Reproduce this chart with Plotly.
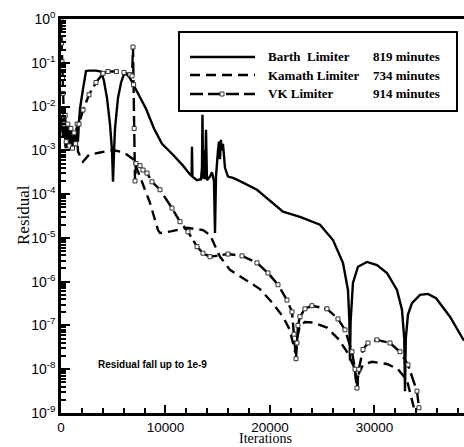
import plotly.graph_objects as go

# ---------------- data ----------------
barth_iter = [0, 150, 300, 450, 600, 750, 900, 1050, 1200, 1350, 1500, 1620, 1723, 1818, 2105, 2393,
              2680, 3350, 3828, 4100, 4400, 4690, 4880, 4976, 5080, 5168, 5455, 5750, 6029, 6316, 6603,
              7178, 8135, 8900, 9666, 10718, 11675, 12345, 12500, 12537, 12580, 13015, 13400, 13494,
              13540, 13589, 13685, 13780, 13877, 13970, 14259, 14451, 14640, 14738, 14834, 15025,
              15120, 15216, 15300, 15408, 15503, 15695, 15982, 16460, 16939, 18757, 21245, 22872,
              24786, 26030, 26987, 27466, 27600, 27657, 27720, 27943, 28423, 29284, 30241, 31198,
              32155, 32634, 32850, 32921, 33000, 33208, 33591, 34356, 35122, 35900, 37227, 38567]
barth_res = [6.31e-3, 2.51e-3, 5.01e-3, 1.26e-3, 3.98e-3, 1.58e-3, 3.16e-3, 1.12e-3, 2.51e-3, 1.26e-3,
             3.16e-3, 1.58e-3, 4.47e-3, 8.91e-3, 2.51e-2, 6.46e-2, 6.61e-2, 6.61e-2, 6.31e-2, 3.98e-2,
             1.58e-2, 3.98e-3, 1.0e-3, 1.91e-4, 1.0e-3, 3.16e-3, 1.58e-2, 3.55e-2, 5.50e-2, 5.37e-2,
             4.47e-2, 2.51e-2, 8.91e-3, 3.16e-3, 1.41e-3, 7.94e-4, 4.47e-4, 2.82e-4, 2.63e-4, 1.20e-3,
             2.51e-4, 2.09e-4, 2.19e-4, 3.98e-4, 6.46e-3, 2.24e-4, 1.0e-3, 2.19e-4, 2.95e-3, 2.09e-4,
             2.51e-4, 3.16e-4, 2.0e-4, 1.29e-5, 2.51e-4, 1.0e-3, 1.58e-3, 6.31e-4, 1.74e-3, 1.0e-3,
             1.41e-3, 3.98e-4, 2.51e-4, 2.34e-4, 2.09e-4, 1.26e-4, 3.98e-5, 3.02e-5, 2.0e-5, 8.91e-6,
             2.69e-6, 6.46e-7, 1.26e-7, 1.58e-8, 1.26e-7, 9.33e-7, 2.19e-6, 2.82e-6, 2.40e-6, 1.58e-6,
             6.46e-7, 2.29e-7, 5.01e-8, 3.16e-9, 5.01e-8, 1.78e-7, 3.24e-7, 5.01e-7, 5.25e-7, 4.17e-7,
             1.58e-7, 4.47e-8]

kamath_iter = [0, 150, 300, 450, 600, 750, 900, 1050, 1200, 1400, 1550, 1627, 2105, 2680, 3732, 4976,
               6029, 6316, 6890, 7560, 8517, 9283, 9474, 10500, 12058, 13589, 14259, 15216, 16173,
               17800, 19044, 20288, 21245, 21900, 22394, 22585, 22872, 23351, 24116, 25456, 26509,
               27370, 28136, 28327, 28500, 28901, 29762, 31198, 32251, 33112, 33686, 33900]
kamath_res = [5.01e-3, 2.0e-3, 3.98e-3, 1.12e-3, 3.16e-3, 1.41e-3, 3.55e-3, 1.26e-3, 2.51e-3, 1.12e-3,
              2.0e-3, 9.33e-4, 5.50e-4, 7.94e-4, 8.91e-4, 1.02e-3, 8.91e-4, 7.94e-4, 6.31e-4, 2.51e-4,
              6.31e-5, 1.51e-5, 1.29e-5, 1.41e-5, 1.70e-5, 1.51e-5, 1.17e-5, 3.72e-6, 1.86e-6, 1.05e-6,
              6.76e-7, 3.16e-7, 1.58e-7, 7.94e-8, 2.51e-8, 5.01e-8, 1.0e-7, 1.20e-7, 1.17e-7, 8.91e-8,
              5.01e-8, 2.51e-8, 1.0e-8, 3.39e-9, 7.94e-9, 1.26e-8, 1.48e-8, 1.32e-8, 1.0e-8, 5.62e-9,
              1.55e-9, 1.0e-9]

vk_iter = [0, 50, 100, 150, 200, 250, 300, 400, 500, 650, 800, 950, 1100, 1250, 1400, 1550, 1723, 2105,
           2680, 3350, 4019, 4500, 5300, 6029, 6600, 6800, 6890, 6950, 7000, 7082, 7178, 7560, 7847,
           8230, 8709, 9474, 10623, 11388, 12154, 13015, 13589, 14259, 15982, 17322, 18757, 19810,
           20767, 21628, 22107, 22300, 22490, 22585, 22681, 22872, 23351, 24020, 25456, 26509, 27179,
           27848, 28136, 28327, 28500, 28901, 29380, 30241, 31485, 32442, 33208, 34069, 34261]
vk_res = [1.0, 2.82e-1, 1.05e-1, 4.37e-2, 2.0e-2, 8.91e-3, 3.98e-3, 6.31e-3, 1.58e-3, 3.98e-3, 1.26e-3,
          3.16e-3, 1.12e-3, 2.51e-3, 1.41e-3, 3.98e-3, 3.98e-3, 8.32e-3, 1.86e-2, 3.55e-2, 5.75e-2,
          6.31e-2, 6.31e-2, 6.03e-2, 5.37e-2, 5.01e-2, 2.29e-1, 3.16e-2, 3.16e-3, 2.0e-4, 5.01e-4,
          4.47e-4, 3.55e-4, 3.02e-4, 1.91e-4, 1.26e-4, 4.79e-5, 2.34e-5, 1.38e-5, 6.31e-6, 4.47e-6,
          3.72e-6, 4.27e-6, 3.89e-6, 2.69e-6, 1.58e-6, 8.51e-7, 3.80e-7, 2.04e-7, 6.31e-8, 1.74e-8,
          3.98e-8, 1.0e-7, 1.58e-7, 2.40e-7, 2.82e-7, 2.40e-7, 1.41e-7, 7.94e-8, 2.51e-8, 1.0e-8,
          3.72e-9, 1.0e-8, 2.82e-8, 3.98e-8, 4.68e-8, 3.98e-8, 2.51e-8, 1.26e-8, 3.16e-9, 1.32e-9]

series_names = ["Barth\u00a0 Limiter", "Kamath Limiter", "VK Limiter"]
run_times = ["819 minutes", "734 minutes", "914 minutes"]

x_ticks = [0, 10000, 20000, 30000]
y_exponents = list(range(-9, 1))

# ---------------- figure ----------------
W, H = 464, 447
L, T, B, R = 61, 19, 34, 0
pw, ph = W - L - R, H - T - B


def px(x):
    return (x - L) / pw


def py(y):
    return (H - B - y) / ph


fig = go.Figure()
fig.add_trace(go.Scatter(x=barth_iter, y=barth_res, mode="lines",
                         line=dict(color="black", width=2.4), name=series_names[0]))
fig.add_trace(go.Scatter(x=kamath_iter, y=kamath_res, mode="lines",
                         line=dict(color="black", width=2.4, dash="10px,6px"), name=series_names[1]))
fig.add_trace(go.Scatter(x=vk_iter, y=vk_res, mode="lines+markers",
                         line=dict(color="black", width=2.4, dash="13px,5px"),
                         marker=dict(symbol="square", size=4, color="white",
                                     line=dict(color="#333", width=1)),
                         name=series_names[2]))

ytickvals = [10.0 ** e for e in y_exponents]
yticktext = ["10<sup>%d</sup>" % e for e in y_exponents]
yminor = [k * 10.0 ** e for e in range(-9, 0) for k in range(2, 10)]

fig.update_layout(
    width=W, height=H,
    margin=dict(l=L, r=R, t=T, b=B, autoexpand=False),
    paper_bgcolor="white", plot_bgcolor="white",
    showlegend=False,
    font=dict(family="Arial, Liberation Sans", color="black", size=14),
    xaxis=dict(range=[0, 38570], tickvals=x_ticks, ticktext=[str(v) for v in x_ticks],
               ticks="inside", ticklen=8, tickwidth=2, tickcolor="black",
               minor=dict(dtick=2000, tick0=0, ticks="inside", ticklen=5, tickwidth=1.5, tickcolor="black"),
               showline=True, linecolor="black", linewidth=2.5, mirror=True,
               showgrid=False, zeroline=False,
               tickfont=dict(size=13.5, family="Arial, Liberation Sans"),
               automargin=False),
    yaxis=dict(type="log", range=[-9, 0], tickvals=ytickvals, ticktext=yticktext,
               ticks="inside", ticklen=9, tickwidth=2, tickcolor="black",
               minor=dict(tickvals=yminor, ticks="inside", ticklen=5, tickwidth=1.5, tickcolor="black"),
               showline=True, linecolor="black", linewidth=2.5, mirror=False,
               showgrid=False, zeroline=False,
               tickfont=dict(size=14, family="Arial, Liberation Sans"),
               automargin=False),
)

# legend box drawn by hand
shapes = [dict(type="rect", xref="paper", yref="paper", x0=px(179), x1=px(457), y0=py(111), y1=py(32),
               line=dict(color="black", width=2), fillcolor="white", layer="above")]
rows_y = [57, 75, 94]
dashes = ["solid", "10px,6px", "13px,5px"]
for yy, d in zip(rows_y, dashes):
    shapes.append(dict(type="line", xref="paper", yref="paper", x0=px(190), x1=px(255),
                       y0=py(yy), y1=py(yy), line=dict(color="black", width=2.4, dash=d)))
shapes.append(dict(type="rect", xref="paper", yref="paper", x0=px(220), x1=px(224),
                   y0=py(96), y1=py(92), line=dict(color="#333", width=1), fillcolor="white"))
fig.update_layout(shapes=shapes)

serif = "Liberation Serif, Times New Roman"
ann = []
for yy, nm, tm in zip(rows_y, series_names, run_times):
    ann.append(dict(xref="paper", yref="paper", x=px(266), y=py(yy), xanchor="left", yanchor="middle",
                    text="<b>%s</b>" % nm, showarrow=False,
                    font=dict(family=serif, size=13, color="black")))
    ann.append(dict(xref="paper", yref="paper", x=px(371), y=py(yy), xanchor="left", yanchor="middle",
                    text="<b>%s</b>" % tm, showarrow=False,
                    font=dict(family=serif, size=13, color="black")))
ann.append(dict(xref="paper", yref="paper", x=px(96), y=py(364), xanchor="left", yanchor="middle",
                text="<b>Residual fall up to 1e-9</b>", showarrow=False,
                font=dict(family="Arial, Liberation Sans", size=10, color="black")))
# axis titles
ann.append(dict(xref="paper", yref="paper", x=px(265), y=py(447), xanchor="center", yanchor="bottom",
                text="Iterations", showarrow=False, borderpad=0,
                font=dict(family=serif, size=14, color="black")))
ann.append(dict(xref="paper", yref="paper", x=px(23), y=py(215), xanchor="center", yanchor="middle",
                text="Residual", textangle=-90, showarrow=False,
                font=dict(family=serif, size=17, color="black")))
fig.update_layout(annotations=ann)

fig.write_html("out.html")
